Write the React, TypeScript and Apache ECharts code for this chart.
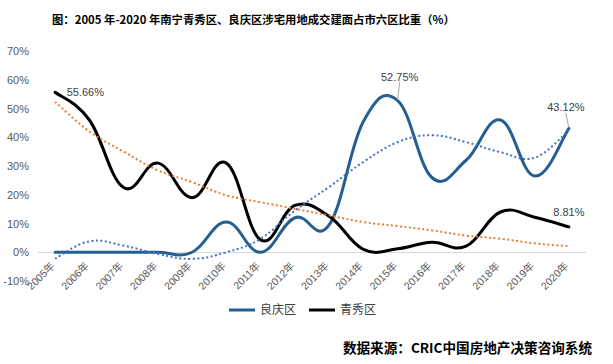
import React, { useEffect, useRef } from 'react';
import * as echarts from 'echarts';

const years = ['2005年', '2006年', '2007年', '2008年', '2009年', '2010年', '2011年', '2012年', '2013年', '2014年', '2015年', '2016年', '2017年', '2018年', '2019年', '2020年'];
const liangqing = [0, 0, 0, 0, 0, 10.5, 0, 12, 9.5, 45.5, 52.75, 26, 32, 46, 26.5, 43.12];
const qingxiu = [55.66, 46, 22.5, 31, 19, 31, 4.3, 16.3, 12.5, 1.0, 1.2, 3.5, 2.1, 14, 12.2, 8.81];
const qingxiuTrend = [52.3, 42, 35, 28.5, 24.4, 19.8, 17.4, 15.1, 12.8, 10.5, 9.1, 7.6, 5.8, 4.7, 3.1, 2.1];
const liangqingTrend = [-2.2, 3.8, 2.3, -0.6, -2.3, 0, 4.7, 14.5, 22.7, 31.4, 38.3, 40.7, 38.3, 34.8, 32.9, 42.4];
const yTicks = [-10, 0, 10, 20, 30, 40, 50, 60, 70];

const TITLE = '图：2005 年-2020 年南宁青秀区、良庆区涉宅用地成交建面占市六区比重（%）';
const SOURCE = '数据来源：CRIC中国房地产决策咨询系统';

const FONT = "'Liberation Sans', 'Noto Sans CJK SC', sans-serif";
const CJK = "'Noto Sans CJK SC', sans-serif";
const BLUE = '#255E91';
const K = 0.2;

function smoothSeries(values: number[], stroke: string, width: number, dash: number[] | null, z: number) {
  return {
    type: 'custom',
    silent: true,
    clip: false,
    z,
    data: values.map((v, i) => [i, v]),
    encode: { x: 0, y: 1 },
    renderItem: (params: any, api: any) => {
      if (params.dataIndex !== 0) return null;
      const pts = values.map((v, i) => api.coord([i, v]));
      const n = pts.length;
      const P = (i: number) => pts[Math.max(0, Math.min(n - 1, i))];
      let d = `M${pts[0][0]},${pts[0][1]}`;
      for (let i = 0; i < n - 1; i++) {
        const p0 = P(i - 1), p1 = P(i), p2 = P(i + 1), p3 = P(i + 2);
        const c1x = p1[0] + (p2[0] - p0[0]) * K;
        const c1y = p1[1] + (p2[1] - p0[1]) * K;
        const c2x = p2[0] - (p3[0] - p1[0]) * K;
        const c2y = p2[1] - (p3[1] - p1[1]) * K;
        d += ` C${c1x},${c1y} ${c2x},${c2y} ${p2[0]},${p2[1]}`;
      }
      return {
        type: 'path',
        shape: { pathData: d },
        style: {
          fill: 'none',
          stroke,
          lineWidth: width,
          lineDash: dash || undefined,
          lineCap: dash ? 'butt' : 'round',
          lineJoin: 'round',
        },
      };
    },
  };
}

export default function App() {
  const ref = useRef<HTMLDivElement>(null);
  useEffect(() => {
    if (!ref.current) return;
    document.body.style.margin = '0';
    const chart = echarts.init(ref.current, null, { renderer: 'svg' });
    const fmt = (n: number) => n.toFixed(2) + '%';
    const lqLabels: Record<number, any> = {
      10: { show: true, position: 'top', distance: 5 },
      15: { show: true, position: 'top', distance: 5 },
    };
    const qxLabels: Record<number, any> = {
      0: { show: true, position: 'right', distance: 11 },
      15: { show: true, position: 'top', distance: 9 },
    };
    const labelStyle = { fontSize: 11, color: '#404040', fontFamily: FONT, formatter: (p: any) => fmt(p.value) };
    const splitColors = yTicks.map((t) => (t === 0 ? '#D9D9D9' : 'rgba(0,0,0,0)'));
    chart.setOption({
      animation: false,
      backgroundColor: '#fff',
      title: {
        text: TITLE,
        left: 47,
        top: 8,
        textStyle: { fontSize: 11.35, fontWeight: 'bold', color: '#000', fontFamily: CJK },
      },
      graphic: [
        {
          type: 'text',
          right: 21,
          top: 340,
          style: { text: SOURCE, fontSize: 13.6, fontWeight: 'bold', fill: '#000', fontFamily: CJK },
        },
      ],
      legend: {
        left: 229,
        top: 304,
        padding: 0,
        icon: 'rect',
        itemWidth: 26,
        itemHeight: 3,
        itemGap: 13,
        data: ['良庆区', '青秀区'],
        textStyle: { fontSize: 12, color: '#404040', fontFamily: FONT },
      },
      grid: { left: 38, right: 27, top: 51, bottom: 83 },
      xAxis: {
        type: 'category',
        data: years,
        boundaryGap: true,
        axisLine: { show: false },
        axisTick: { show: false },
        axisLabel: {
          rotate: 45,
          interval: 0,
          margin: -19,
          padding: [0, 3, 0, 0],
          fontSize: 10.5,
          color: '#595959',
          fontFamily: FONT,
        },
      },
      yAxis: {
        type: 'value',
        min: -10,
        max: 70,
        interval: 10,
        axisLine: { show: false },
        axisTick: { show: false },
        axisLabel: { formatter: '{value}%', fontSize: 11, color: '#595959', fontFamily: FONT, margin: 9 },
        splitLine: { show: true, lineStyle: { color: splitColors, width: 1 } },
      },
      series: [
        smoothSeries(liangqing, BLUE, 3, null, 3),
        smoothSeries(qingxiu, '#000', 3, null, 4),
        smoothSeries(qingxiuTrend, '#ED7D31', 2, [2, 2.5], 5),
        smoothSeries(liangqingTrend, '#4472C4', 2, [2, 2.5], 5),
        {
          name: '良庆区',
          type: 'line',
          symbol: 'circle',
          symbolSize: 1,
          showSymbol: true,
          itemStyle: { color: BLUE },
          lineStyle: { color: BLUE, width: 3, opacity: 0 },
          data: liangqing.map((v, i) => ({
            value: v,
            label: lqLabels[i] ? { ...lqLabels[i], ...labelStyle } : { show: false },
            labelLine: lqLabels[i] ? { show: true, lineStyle: { color: '#A6A6A6', width: 1 } } : { show: false },
          })),
          labelLayout: (p: any) => (p.dataIndex === 10 ? { dx: 2, dy: -13 } : p.dataIndex === 15 ? { dx: -3, dy: -10 } : {}),
          z: 6,
        },
        {
          name: '青秀区',
          type: 'line',
          symbol: 'circle',
          symbolSize: 1,
          showSymbol: true,
          itemStyle: { color: '#000' },
          lineStyle: { color: '#000', width: 3, opacity: 0 },
          data: qingxiu.map((v, i) => ({
            value: v,
            label: qxLabels[i] ? { ...qxLabels[i], ...labelStyle } : { show: false },
          })),
          z: 6,
        },
      ],
    });
    return () => chart.dispose();
  }, []);
  return <div ref={ref} style={{ position: 'absolute', left: 0, top: 0, width: 613, height: 364 }} />;
}
